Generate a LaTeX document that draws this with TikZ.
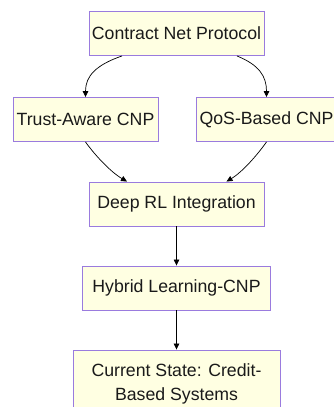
\documentclass[tikz,border=0pt]{standalone}
\usepackage{fontspec}
\setmainfont{Liberation Sans}
\usetikzlibrary{arrows.meta}
\definecolor{boxfill}{HTML}{FFFFE2}
\definecolor{boxline}{HTML}{9A7BDE}
\definecolor{inktext}{HTML}{1A1A1A}
\begin{document}
\begin{tikzpicture}[x=1pt,y=-1pt,
  stagebox/.style={draw=boxline, fill=boxfill, line width=0.9pt,
    inner sep=0pt, minimum height=44pt, text=inktext, align=center,
    font=\fontsize{17.7}{24.5}\selectfont},
  flow/.style={draw=black, line width=0.7pt,
    -{Triangle[length=6pt,width=5.5pt]}}]
\useasboundingbox (0,0) rectangle (334,407);
\clip (0,0) rectangle (334,407);
\fill[white] (0,0) rectangle (334,407);

% protocol stages
\node[stagebox, minimum width=175pt] (cnp)    at (176.5,33.5) {Contract Net Protocol};
\node[stagebox, minimum width=145pt] (trust)  at (85.5,119.5) {Trust-Aware CNP};
\node[stagebox, minimum width=141pt] (qos)    at (266.5,119.5) {QoS-Based CNP};
\node[stagebox, minimum width=175pt] (drl)    at (176.5,204) {Deep RL Integration};
\node[stagebox, minimum width=188.5pt] (hybrid) at (176.5,288) {Hybrid Learning-CNP};
\node[stagebox, minimum width=207pt, minimum height=68pt] (credit) at (176.5,384)
  {Current State: Credit-\\Based Systems};

% transitions between stages
\draw[flow] ([xshift=-54.5pt]cnp.south) .. controls +(-26,9) and +(0,-21) .. (trust.north);
\draw[flow] ([xshift=60.5pt]cnp.south) .. controls +(22,9) and +(0,-21) .. (qos.north);
\draw[flow] (trust.south) .. controls +(8.5,12) and +(-17,-10) .. ([xshift=-49.5pt]drl.north);
\draw[flow] (qos.south) .. controls +(-8.5,12) and +(16.5,-10) .. ([xshift=50pt]drl.north);
\draw[flow] (drl.south) -- (hybrid.north);
\draw[flow] (hybrid.south) -- (credit.north);
\end{tikzpicture}
\end{document}
